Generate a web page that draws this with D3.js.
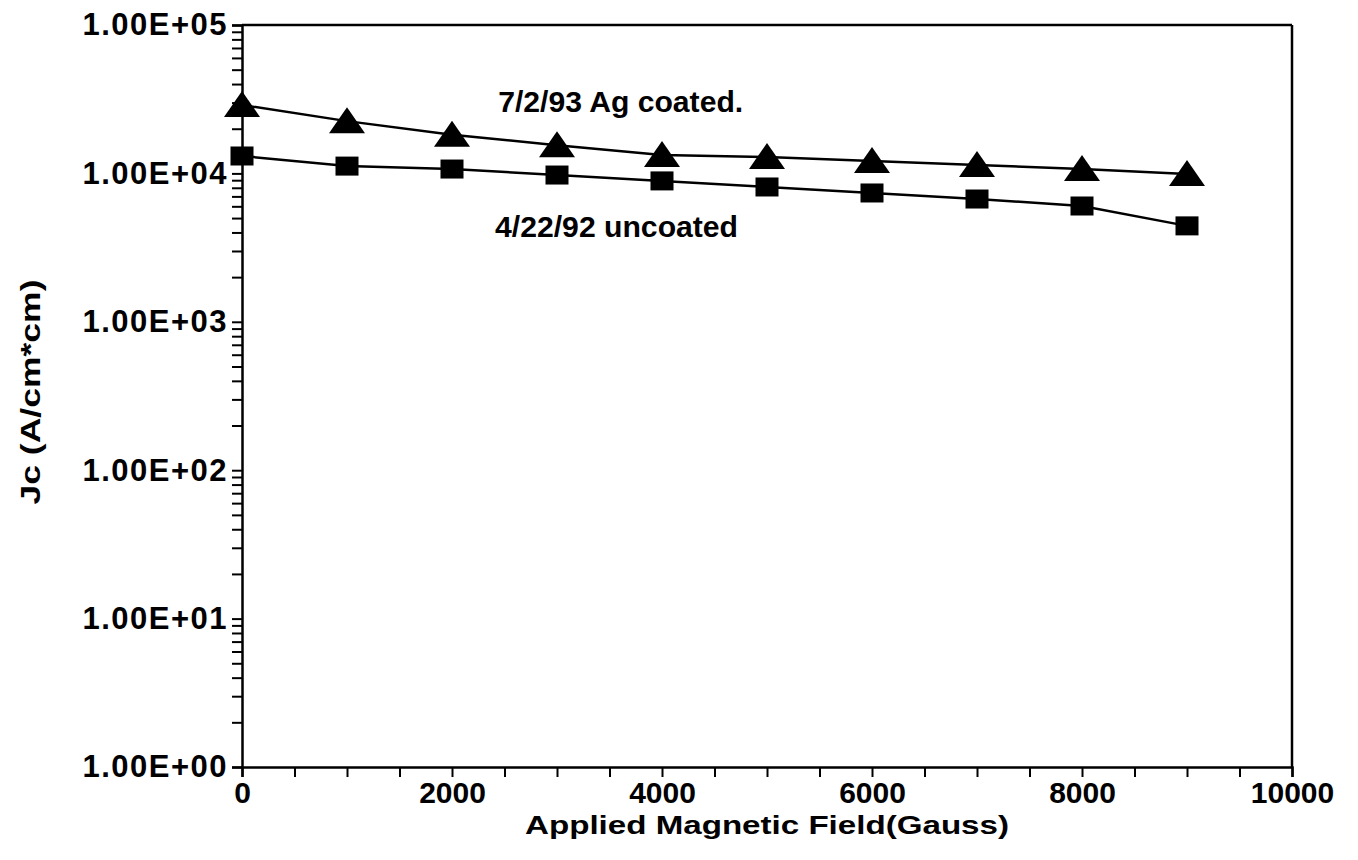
<!DOCTYPE html>
<html>
<head>
<meta charset="utf-8">
<script src="https://cdn.jsdelivr.net/npm/d3@7"></script>
<style>
  html, body { margin: 0; padding: 0; background: #fff; }
  svg { display: block; }
  text { font-family: "Liberation Sans", Arial, sans-serif; fill: #000; }
</style>
</head>
<body>
<svg id="chart" width="1358" height="860"></svg>
<script>
// field values (Gauss)
const fieldValues = [0, 1000, 2000, 3000, 4000, 5000, 6000, 7000, 8000, 9000];
// Jc, 7/2/93 Ag coated (triangles)
const coatedJc = [28900, 22500, 18200, 15500, 13300, 12900, 12100, 11400, 10700, 9900];
// Jc, 4/22/92 uncoated (squares)
const uncoatedJc = [13100, 11200, 10700, 9750, 8900, 8100, 7380, 6720, 6030, 4430];

const xTickValues = [0, 2000, 4000, 6000, 8000, 10000];
const yTickValues = [1, 10, 100, 1000, 10000, 100000];
const yTickLabels = ["1.00E+00", "1.00E+01", "1.00E+02", "1.00E+03", "1.00E+04", "1.00E+05"];

const seriesNotes = [
  { text: "7/2/93 Ag coated.", x: 2440, y: 25900 },
  { text: "4/22/92 uncoated", x: 2410, y: 3700 },
];

const margin = { top: 25, right: 66, bottom: 93, left: 242 };
const svg = d3.select("#chart");
const width = +svg.attr("width") - margin.left - margin.right;
const height = +svg.attr("height") - margin.top - margin.bottom;

const g = svg.append("g")
  .attr("transform", "translate(" + margin.left + "," + margin.top + ")");

const x = d3.scaleLinear().domain([0, 10000]).range([0, width]);
const y = d3.scaleLog().domain([1, 100000]).range([height, 0]);

// minor log ticks 1..9 per decade
const yMinor = [];
yTickValues.slice(0, -1).forEach(function (d) {
  for (let k = 1; k < 10; k++) yMinor.push(d * k);
});
yMinor.push(100000);

const yAxis = g.append("g")
  .call(d3.axisLeft(y)
    .tickValues(yMinor)
    .tickSize(10)
    .tickPadding(4)
    .tickFormat(function (d) {
      const i = yTickValues.indexOf(d);
      return i >= 0 ? yTickLabels[i] : "";
    }));

const xAxis = g.append("g")
  .attr("transform", "translate(0," + height + ")")
  .call(d3.axisBottom(x)
    .tickValues(d3.range(0, 10001, 500))
    .tickSize(10)
    .tickPadding(5)
    .tickFormat(function (d) {
      return xTickValues.indexOf(d) >= 0 ? d : "";
    }));

[xAxis, yAxis].forEach(function (a) {
  a.select(".domain").attr("stroke", "#000").attr("stroke-width", 2.5);
  a.selectAll(".tick line").attr("stroke", "#000").attr("stroke-width", 2);
  a.selectAll(".tick text")
    .attr("font-size", 31)
    .attr("font-weight", "bold")
    .style("font-family", "'Liberation Sans', Arial, sans-serif");
});
yAxis.selectAll(".tick text").attr("letter-spacing", 1.5);
xAxis.selectAll(".tick text").attr("font-size", 30);

// top and right frame
g.append("line").attr("x1", 0).attr("x2", width).attr("y1", 0).attr("y2", 0)
  .attr("stroke", "#000").attr("stroke-width", 2.5);
g.append("line").attr("x1", width).attr("x2", width).attr("y1", 0).attr("y2", height)
  .attr("stroke", "#000").attr("stroke-width", 2.5);

const line = d3.line()
  .x(function (d) { return x(d[0]); })
  .y(function (d) { return y(d[1]); });

const coated = d3.zip(fieldValues, coatedJc);
const uncoated = d3.zip(fieldValues, uncoatedJc);

[coated, uncoated].forEach(function (s) {
  g.append("path")
    .datum(s)
    .attr("fill", "none")
    .attr("stroke", "#000")
    .attr("stroke-width", 2.5)
    .attr("d", line);
});

g.selectAll(".tri")
  .data(coated)
  .enter()
  .append("path")
  .attr("class", "tri")
  .attr("transform", function (d) {
    return "translate(" + x(d[0]) + " " + y(d[1]) + ")";
  })
  .attr("d", "M0,-14L18,12L-18,12Z")
  .attr("fill", "#000");

g.selectAll(".sq")
  .data(uncoated)
  .enter()
  .append("rect")
  .attr("class", "sq")
  .attr("x", function (d) { return x(d[0]) - 11.5; })
  .attr("y", function (d) { return y(d[1]) - 9.5; })
  .attr("width", 23)
  .attr("height", 19)
  .attr("fill", "#000");

g.selectAll(".note")
  .data(seriesNotes)
  .enter()
  .append("text")
  .attr("class", "note")
  .attr("x", function (d) { return x(d.x); })
  .attr("y", function (d) { return y(d.y); })
  .attr("font-size", 29)
  .attr("font-weight", "bold")
  .attr("textLength", function (d, i) { return i === 0 ? 245 : 243; })
  .attr("lengthAdjust", "spacingAndGlyphs")
  .text(function (d) { return d.text; });

// axis titles
svg.append("text")
  .attr("x", margin.left + width / 2)
  .attr("y", 834)
  .attr("text-anchor", "middle")
  .attr("font-size", 25)
  .attr("font-weight", "bold")
  .attr("textLength", 484)
  .attr("lengthAdjust", "spacingAndGlyphs")
  .text("Applied Magnetic Field(Gauss)");

svg.append("text")
  .attr("transform", "translate(40," + 392 + ") rotate(-90)")
  .attr("text-anchor", "middle")
  .attr("font-size", 28)
  .attr("font-weight", "bold")
  .attr("textLength", 225)
  .attr("lengthAdjust", "spacingAndGlyphs")
  .text("Jc (A/cm*cm)");
</script>
</body>
</html>
